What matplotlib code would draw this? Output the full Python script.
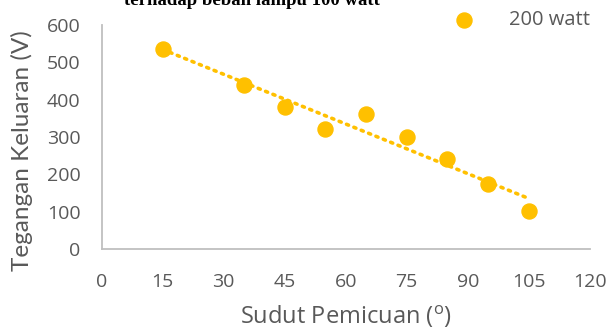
import numpy as np
import matplotlib
matplotlib.use('Agg')
import matplotlib.pyplot as plt

sudut = [15, 35, 45, 55, 65, 75, 85, 95, 105]
tegangan = [536, 440, 381, 322, 362, 300, 241, 174, 102]
x_ticks = [0, 15, 30, 45, 60, 75, 90, 105, 120]
y_ticks = [0, 100, 200, 300, 400, 500, 600]

gray = '#595959'
kuning = '#FFC000'
plt.rcParams['font.family'] = ['Open Sans', 'DejaVu Sans']

fig = plt.figure(figsize=(6.08, 3.34), dpi=100)
ax = fig.add_axes([0.167, 0.2545, 0.803, 0.671])

# linear trendline like excel
k = np.polyfit(sudut, tegangan, 1)
xs = np.array([sudut[0], sudut[-1]])
ax.plot(xs, np.polyval(k, xs), linestyle=(0, (0.6, 1.6)), color=kuning,
        linewidth=2.6, dash_capstyle='round', zorder=2)
ax.scatter(sudut, tegangan, s=117, color=kuning, zorder=3, label='200 watt')

ax.set_xlim(0, 120)
ax.set_ylim(0, 600)
ax.set_xticks(x_ticks)
ax.set_yticks(y_ticks)
ax.tick_params(length=0, labelsize=14, colors=gray)
ax.tick_params(axis='x', pad=17)
ax.tick_params(axis='y', pad=15)
for s in ['top', 'right']:
    ax.spines[s].set_visible(False)
for s in ['left', 'bottom']:
    ax.spines[s].set_color('#BFBFBF')
    ax.spines[s].set_linewidth(1.3)

ax.set_xlabel('Sudut Pemicuan ($^\\mathregular{o}$)', fontsize=17, color=gray, labelpad=9)
ax.set_ylabel('Tegangan Keluaran (V)', fontsize=17.5, color=gray,
              family=['Lato', 'DejaVu Sans'])
ax.yaxis.set_label_coords(-0.14, 0.44)

ax.legend(loc='center right', bbox_to_anchor=(1.0, 1.022), frameon=False,
          borderaxespad=0, borderpad=0, fontsize=14.5, labelcolor=gray,
          handletextpad=1.2, markerscale=1.0)

fig.text(0.415, 0.985, 'terhadap beban lampu 100 watt', ha='center', va='baseline',
         fontsize=13.5, fontweight='bold', family='Liberation Serif', color='black')

fig.savefig('out.png', dpi=100)
